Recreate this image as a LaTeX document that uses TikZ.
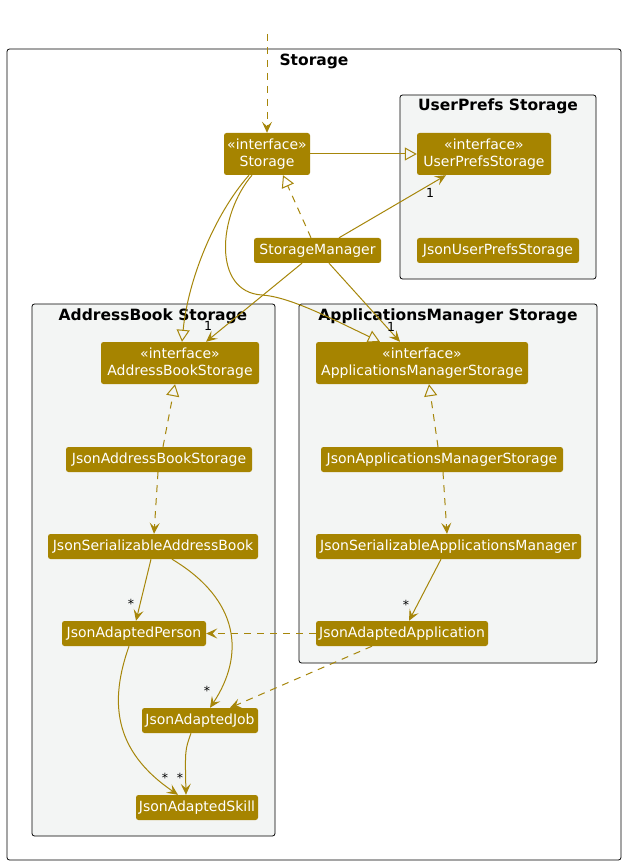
\documentclass[tikz,border=0pt]{standalone}
\usepackage{fontspec}
\setmainfont{DejaVu Sans}
\usetikzlibrary{arrows.meta}
\definecolor{nodefill}{RGB}{166,132,0}
\definecolor{edgecol}{RGB}{166,134,10}
\definecolor{framefill}{RGB}{243,245,244}
\tikzset{
  cls/.style={fill=nodefill, text=white, rounded corners=2.5pt, inner sep=0pt, align=center,
    font=\fontsize{14}{17}\selectfont},
  frame/.style={draw=black, line width=0.8pt, fill=framefill, rounded corners=2.5pt},
  ftitle/.style={font=\fontsize{15.5}{18}\selectfont\bfseries, inner sep=0pt},
  mult/.style={font=\fontsize{12.5}{14}\selectfont, inner sep=0pt},
  edge/.style={draw=edgecol, line width=1pt},
  dsh/.style={dash pattern=on 7pt off 6pt},
  arr/.style={-{Stealth[length=11pt,width=10pt,inset=4.5pt]}},
  inh/.style={-{Triangle[open,length=12pt,width=13pt]}},
}
\begin{document}
\begin{tikzpicture}[x=1pt,y=-1pt]
\useasboundingbox (0,0) rectangle (626,866);
% frames
\draw[draw=black, line width=0.8pt, fill=white, rounded corners=2.5pt] (7,49) rectangle (621,860);
\node[ftitle] (tStorage) at (314,61) {Storage};
\draw[frame] (400,95) rectangle (596,279);
\node[ftitle] (tUP) at (498,106) {UserPrefs Storage};
\draw[frame] (32,304) rectangle (275,836);
\node[ftitle] (tAB) at (153,316) {AddressBook Storage};
\draw[frame] (299,304) rectangle (597,663);
\node[ftitle] (tAM) at (448,316) {ApplicationsManager Storage};

% nodes
\node[cls, minimum width=86pt, minimum height=42pt] (Storage) at (267,154) {«interface»\\Storage};
\node[cls, minimum width=134pt, minimum height=42pt] (UPS) at (484,154) {«interface»\\UserPrefsStorage};
\node[cls, minimum width=162pt, minimum height=25pt] (JUPS) at (498,250.5) {JsonUserPrefsStorage};
\node[cls, minimum width=127pt, minimum height=25pt] (SM) at (317.5,250.5) {StorageManager};
\node[cls, minimum width=158pt, minimum height=42pt] (ABS) at (180,363) {«interface»\\AddressBookStorage};
\node[cls, minimum width=186pt, minimum height=25pt] (JABS) at (159,459.5) {JsonAddressBookStorage};
\node[cls, minimum width=210pt, minimum height=25pt] (JSAB) at (153,546.5) {JsonSerializableAddressBook};
\node[cls, minimum width=144pt, minimum height=25pt] (JAP) at (134,633.5) {JsonAdaptedPerson};
\node[cls, minimum width=116pt, minimum height=25pt] (JAJ) at (200,720.5) {JsonAdaptedJob};
\node[cls, minimum width=122pt, minimum height=25pt] (JSk) at (197,807.5) {JsonAdaptedSkill};
\node[cls, minimum width=212pt, minimum height=42pt] (AMS) at (422,363) {«interface»\\ApplicationsManagerStorage};
\node[cls, minimum width=242pt, minimum height=25pt] (JAMS) at (442,459.5) {JsonApplicationsManagerStorage};
\node[cls, minimum width=265pt, minimum height=25pt] (JSAM) at (448.5,546.5) {JsonSerializableApplicationsManager};
\node[cls, minimum width=172pt, minimum height=25pt] (JAA) at (402,633.5) {JsonAdaptedApplication};

% edges
\coordinate (top) at (267,34);
\draw[edge,dsh,arr] (top) -- (Storage.north);
\draw[edge,inh] (Storage.east) -- (UPS.west);
\draw[edge,dsh,inh] ([xshift=-6.5pt]SM.north) -- ([xshift=16pt]Storage.south);
\draw[edge,arr] ([xshift=21.5pt]SM.north) -- ([xshift=-38pt]UPS.south);
\node[mult] (m1) at (430,193) {1};
\draw[edge,arr] ([xshift=-15.5pt]SM.south) -- ([xshift=26pt]ABS.north);
\node[mult] (m2) at (208,326) {1};
\draw[edge,arr] ([xshift=11.5pt]SM.south) -- ([xshift=-22pt]AMS.north);
\node[mult] (m3) at (391,327) {1};
\draw[edge,inh] ([xshift=-18pt]Storage.south) .. controls (214,215) and (188,280) .. ([xshift=2pt]ABS.north);
\draw[edge,inh] ([xshift=-15pt]Storage.south) .. controls (218,215) and (212,292) .. (262,295)
  .. controls (290,297) and (330,318) .. ([xshift=-42pt]AMS.north);

\draw[edge,dsh,inh] ([xshift=4pt]JABS.north) -- ([xshift=-5pt]ABS.south);
\draw[edge,dsh,arr] ([xshift=-1pt]JABS.south) -- ([xshift=1pt]JSAB.north);
\draw[edge,arr] ([xshift=-2pt]JSAB.south) -- ([xshift=2pt]JAP.north);
\node[mult] (m4) at (131,604) {*};
\draw[edge,arr] ([xshift=19pt]JSAB.south) .. controls (240,600) and (245,655) .. ([xshift=10pt]JAJ.north);
\node[mult] (m5) at (207,691) {*};
\draw[edge,arr] ([xshift=-5pt]JAP.south) .. controls (110,700) and (112,750) .. ([xshift=-19pt]JSk.north);
\node[mult] (m6) at (165,778) {*};
\draw[edge,arr] ([xshift=-9pt]JAJ.south) .. controls (185,750) .. ([xshift=-11pt]JSk.north);
\node[mult] (m7) at (180,778) {*};

\draw[edge,dsh,inh] ([xshift=-4pt]JAMS.north) -- ([xshift=7pt]AMS.south);
\draw[edge,dsh,arr] ([xshift=1pt]JAMS.south) -- ([xshift=-1.5pt]JSAM.north);
\draw[edge,arr] ([xshift=-7.5pt]JSAM.south) -- ([xshift=7pt]JAA.north);
\node[mult] (m8) at (406,605) {*};
\draw[edge,dsh,arr] (JAA.west) -- (JAP.east);
\draw[edge,dsh,arr] ([xshift=-30pt]JAA.south) -- ([xshift=30pt]JAJ.north);
\end{tikzpicture}
\end{document}
